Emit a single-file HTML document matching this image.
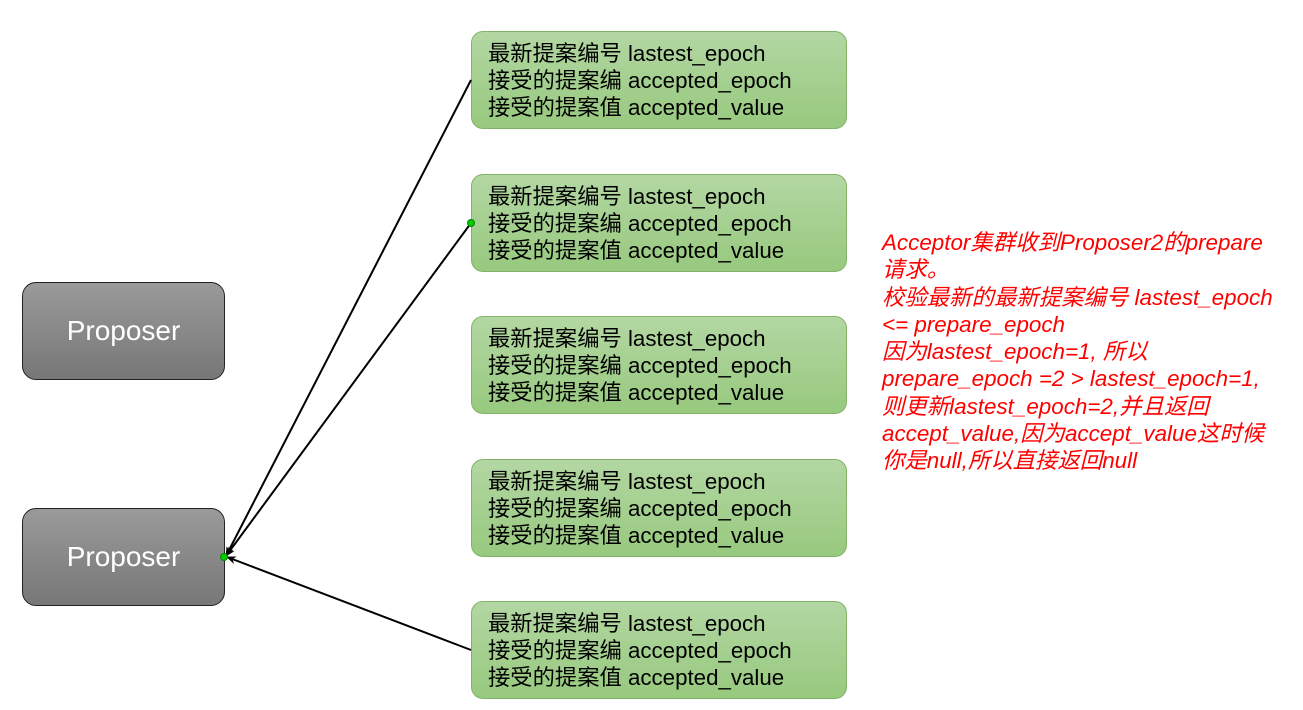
<!DOCTYPE html>
<html><head><meta charset="utf-8"><style>
body{margin:0;width:1303px;height:710px;background:#fff;position:relative;overflow:hidden;font-family:"Liberation Sans","Noto Sans CJK SC",sans-serif}
.g{position:absolute;left:471px;width:374px;height:96px;border:1px solid #82b366;border-radius:12px;background:linear-gradient(#b3d7a3,#97c97e);box-sizing:content-box}
.g div{position:absolute;left:16px;top:8px;font-size:22.3px;line-height:27px;color:#000;white-space:nowrap}
.p{position:absolute;left:22px;width:201px;height:96px;border:1px solid #222;border-radius:14px;background:linear-gradient(#9a9a9a,#777);color:#fff;font-size:28px;text-align:center;line-height:96px}
.r{position:absolute;left:882px;top:229px;color:#f00;font-style:italic;font-size:22.4px;line-height:27.3px;white-space:nowrap}
svg{position:absolute;left:0;top:0}
</style></head><body>
<div class="p" style="top:282px">Proposer</div>
<div class="p" style="top:508px">Proposer</div>
<div class="g" style="top:31px"><div>最新提案编号 lastest_epoch<br>接受的提案编 accepted_epoch<br>接受的提案值 accepted_value</div></div>
<div class="g" style="top:174px"><div>最新提案编号 lastest_epoch<br>接受的提案编 accepted_epoch<br>接受的提案值 accepted_value</div></div>
<div class="g" style="top:316px"><div>最新提案编号 lastest_epoch<br>接受的提案编 accepted_epoch<br>接受的提案值 accepted_value</div></div>
<div class="g" style="top:459px"><div>最新提案编号 lastest_epoch<br>接受的提案编 accepted_epoch<br>接受的提案值 accepted_value</div></div>
<div class="g" style="top:601px"><div>最新提案编号 lastest_epoch<br>接受的提案编 accepted_epoch<br>接受的提案值 accepted_value</div></div>
<svg width="1303" height="710">
<defs><marker id="a" markerWidth="10" markerHeight="8" refX="9" refY="4" orient="auto" markerUnits="userSpaceOnUse"><path d="M0,0 L10,4 L0,8 L3,4z" fill="#000"/></marker></defs>
<g stroke="#000" stroke-width="2" fill="none">
<line x1="471" y1="80" x2="226" y2="556" marker-end="url(#a)"/>
<line x1="471" y1="223" x2="226" y2="556" marker-end="url(#a)"/>
<line x1="471" y1="650" x2="227" y2="557" marker-end="url(#a)"/>
</g>
<circle cx="471" cy="223" r="3.5" fill="#0c0" stroke="#080"/>
<circle cx="224" cy="557" r="3.5" fill="#0c0" stroke="#080"/>
</svg>
<div class="r">Acceptor集群收到Proposer2的prepare<br>请求。<br>校验最新的最新提案编号 lastest_epoch<br>&lt;= prepare_epoch<br>因为lastest_epoch=1, 所以<br>prepare_epoch =2 &gt; lastest_epoch=1,<br>则更新lastest_epoch=2,并且返回<br>accept_value,因为accept_value这时候<br>你是null,所以直接返回null</div>
</body></html>
